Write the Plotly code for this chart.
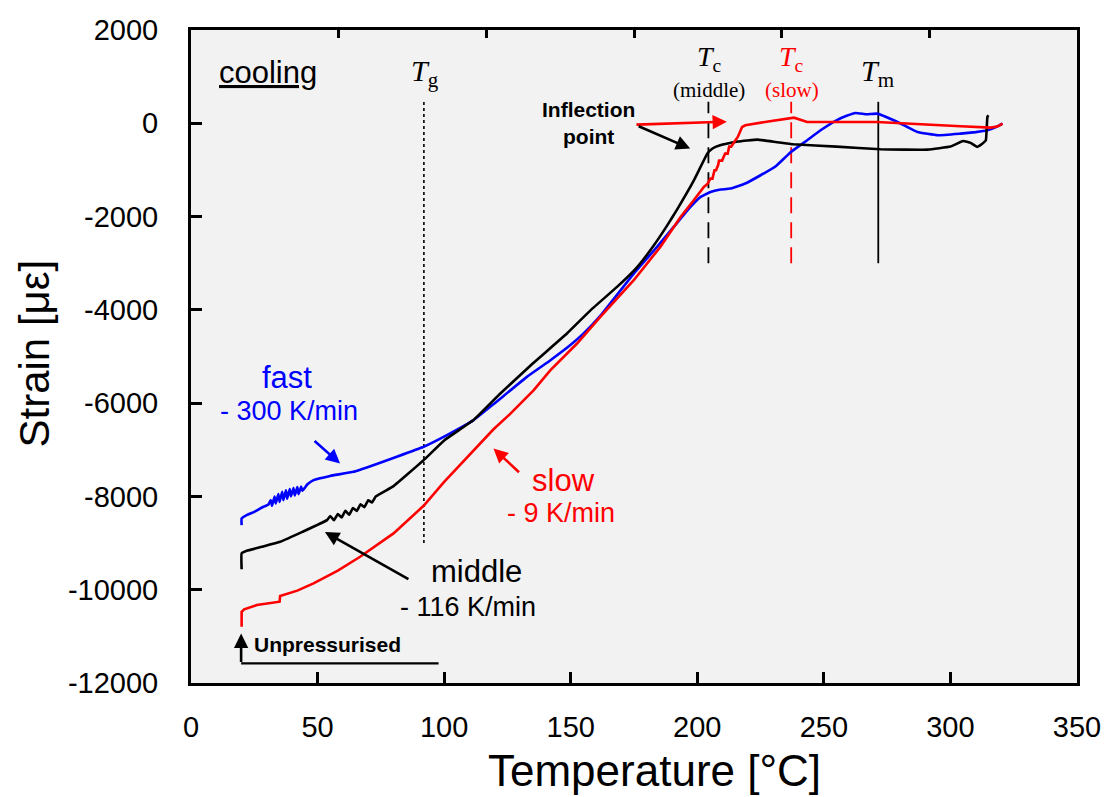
import plotly.graph_objects as go

# ---- measured strain during cooling (temperature in °C, strain in µε) ----
fast_T = [20, 20, 22, 25, 28.6, 30.5, 31.5, 32, 33, 33.5, 34.5, 35, 36, 36.5, 37.5, 38, 39, 39.5,
          40.5, 41, 42, 42.5, 43.5, 44, 46, 48.4, 55, 64.2, 72, 81.3, 91.9, 101.1, 111.6, 120,
          132.7, 142, 150, 155.2, 161.7, 174.9, 184.1, 190.7, 197.3, 201.3, 205.2, 209.2, 213, 219,
          225, 231, 237, 243, 248.7, 255, 259, 262.5, 267, 271, 277.6, 283, 287, 295, 304,
          310, 314.6, 318, 320.6]
fast_y = [-8615, -8472, -8400, -8330, -8222, -8180, -8080, -8200, -8000, -8150, -7950, -8120, -7900,
          -8080, -7870, -8050, -7840, -8000, -7820, -7980, -7800, -7950, -7790, -7880, -7740, -7650,
          -7560, -7472, -7330, -7150, -6936, -6686, -6364, -6000, -5436, -5080, -4750, -4500, -4130,
          -3222, -2650, -2222, -1793, -1579, -1472, -1421, -1400, -1290, -1114, -920, -614, -380,
          -150, 64, 160, 221, 193, 207, 64, -80, -186, -257, -221, -190, -150, -80, -7]

middle_T = [20, 20, 22, 28, 35.2, 44, 53.7, 55, 56.5, 58, 59.5, 61, 62.5, 64, 65.5, 67, 68.5, 70,
            71.5, 73, 80, 91.9, 100, 111.6, 122.2, 135, 148.5, 158, 168.3, 176, 182.8, 188, 192,
            198.6, 204, 206, 209, 216, 223.7, 231, 238, 255, 272.4, 291, 300, 305, 308, 310.6,
            313, 314, 314.6, 315]
middle_y = [-9560, -9222, -9165, -9080, -8972, -8760, -8508, -8420, -8510, -8380, -8450, -8310,
            -8390, -8250, -8310, -8170, -8230, -8080, -8130, -8000, -7780, -7222, -6800, -6364,
            -5793, -5150, -4507, -4000, -3508, -3100, -2620, -2200, -1850, -1230, -650, -540, -471,
            -390, -350, -400, -450, -500, -557, -565, -500, -379, -420, -507, -420, -364, 135, 171]

slow_T = [20, 20, 21, 26, 35, 35.2, 42, 48.4, 58, 66.8, 80, 91.9, 100, 110, 119.5, 126.1, 135.4,
          142, 152.5, 161.7, 174.9, 185.4, 193.4, 198.6, 202.6, 204, 205.2, 206, 206.8, 207.4, 208.2,
          208.6, 209.8, 211, 212, 212.6, 213.4, 214.6, 216, 217.7, 219, 228, 238.2, 243.4, 271, 304,
          316, 318.5, 320.6]
slow_y = [-10793, -10472, -10420, -10329, -10257, -10136, -10020, -9864, -9590, -9293, -8793, -8200,
          -7690, -7110, -6560, -6230, -5722, -5293, -4722, -4151, -3365, -2650, -2008, -1650, -1365,
          -1300, -1186, -1186, -1007, -1007, -900, -800, -800, -650, -650, -500, -500, -400, -293,
          -79, -43, 40, 121, 29, 29, -64, -93, -70, -7]

# characteristic temperatures (°C) and extent of their marker lines (µε)
T_G = 92.0
T_C_MIDDLE = 204.4
T_C_SLOW = 237.1
T_M = 271.5
TG_SPAN = [-9000, 500]
TRANSITION_SPAN = [-3000, 460]

# bracket marking the unpressurised start
unpress_T = [19.8, 97.8]
unpress_y = [-11580, -11580]

# axis ticks
x_ticks = [0, 50, 100, 150, 200, 250, 300, 350]
y_ticks = [2000, 0, -2000, -4000, -6000, -8000, -10000, -12000]
y_tick_text = ["2000", "0", "-2000", "-4000", "-6000", "-8000", "-10000", "-12000"]
top_ticks = [1, 2, 3, 4, 5]

SANS = "Liberation Sans, Arial, Helvetica, sans-serif"
SERIF = "Liberation Serif, Times New Roman, serif"
BLUE, RED, BLACK = "#0000ff", "#ff0000", "#000000"

fig = go.Figure()

# reference temperature lines
fig.add_trace(go.Scatter(x=[T_G, T_G], y=TG_SPAN, mode="lines",
                         line=dict(color=BLACK, width=1.6, dash="3px,3px"), hoverinfo="skip"))
fig.add_trace(go.Scatter(x=[T_C_MIDDLE, T_C_MIDDLE], y=TRANSITION_SPAN, mode="lines",
                         line=dict(color=BLACK, width=1.8, dash="16px,9px"), hoverinfo="skip"))
fig.add_trace(go.Scatter(x=[T_C_SLOW, T_C_SLOW], y=TRANSITION_SPAN, mode="lines",
                         line=dict(color=RED, width=1.8, dash="16px,9px"), hoverinfo="skip"))
fig.add_trace(go.Scatter(x=[T_M, T_M], y=TRANSITION_SPAN, mode="lines",
                         line=dict(color=BLACK, width=1.8), hoverinfo="skip"))

# strain curves
fig.add_trace(go.Scatter(x=fast_T, y=fast_y, mode="lines", name="fast",
                         line=dict(color=BLUE, width=2.6, shape="spline", smoothing=0.3)))
fig.add_trace(go.Scatter(x=middle_T, y=middle_y, mode="lines", name="middle",
                         line=dict(color=BLACK, width=2.6, shape="spline", smoothing=0.3)))
fig.add_trace(go.Scatter(x=slow_T, y=slow_y, mode="lines", name="slow",
                         line=dict(color=RED, width=2.6)))

fig.add_trace(go.Scatter(x=unpress_T, y=unpress_y, mode="lines",
                         line=dict(color=BLACK, width=2.4), hoverinfo="skip"))

# transparent markers that give the top tick axis something to carry
fig.add_trace(go.Scatter(x=top_ticks, y=[0] * len(top_ticks), xaxis="x2", yaxis="y",
                         mode="markers", marker=dict(opacity=0, size=1),
                         hoverinfo="skip", showlegend=False))


def label(x, y, text, size, color=BLACK, family=SANS, **kw):
    fig.add_annotation(x=x, y=y, text=text, showarrow=False, xanchor="center", yanchor="middle",
                       font=dict(family=family, size=size, color=color), **kw)


def arrow(x, y, ax, ay, color):
    fig.add_annotation(x=x, y=y, ax=ax, ay=ay, axref="pixel", ayref="pixel", text="",
                       showarrow=True, arrowhead=2, arrowsize=1.1, arrowwidth=2.6,
                       arrowcolor=color, standoff=0)


label(30.4, 1080, "<u>cooling</u>", 31)
label(92.5, 1080, "<i>T</i><sub>g</sub>", 30, family=SERIF)
label(205.0, 1380, "<i>T</i><sub>c</sub>", 28, family=SERIF)
label(204.7, 713, "(middle)", 21, family=SERIF)
label(237.1, 1380, "<i>T</i><sub>c</sub>", 28, color=RED, family=SERIF)
label(237.3, 713, "(slow)", 21, color=RED, family=SERIF)
label(271.1, 1080, "<i>T</i><sub>m</sub>", 30, family=SERIF)
label(156.9, 15, "<b>Inflection<br>point</b>", 21)

label(38.1, -5440, "fast", 31, color=BLUE)
label(38.7, -6174, "- 300 K/min", 27, color=BLUE)
label(147.0, -7650, "slow", 31, color=RED)
label(146.2, -8362, "- 9 K/min", 27, color=RED)
label(112.6, -9620, "middle", 31)
label(109.3, -10377, "- 116 K/min", 27)
label(54.1, -11170, "<b>Unpressurised</b>", 21)

arrow(211.7, 34, -92, 3, RED)
arrow(197.2, -542, -53, -23, BLACK)
arrow(58.9, -7296, -27, -24, BLUE)
arrow(119.5, -6974, 27, 25, RED)
arrow(52.9, -8762, 85, 48, BLACK)
arrow(19.8, -10941, 0, 30, BLACK)

# axis titles
fig.add_annotation(text="Temperature [°C]", xref="paper", yref="paper", x=0.5237, y=0,
                   yshift=-87, showarrow=False, xanchor="center", yanchor="middle",
                   font=dict(family=SANS, size=44, color=BLACK))
fig.add_annotation(text="Strain [με]", xref="paper", yref="paper", x=0, y=0.5, xshift=-157,
                   yshift=3, textangle=-90, showarrow=False, xanchor="center", yanchor="middle",
                   font=dict(family=SANS, size=42, color=BLACK))

fig.update_layout(
    width=1107, height=797,
    margin=dict(l=191, r=30, t=30, b=114, autoexpand=False),
    paper_bgcolor="white", plot_bgcolor="#f2f2f2",
    showlegend=False,
    font=dict(family=SANS, color=BLACK),
    xaxis=dict(range=[0, 350], tickvals=x_ticks, ticks="inside", ticklen=11, tickwidth=3,
               tickcolor=BLACK, showline=True, linecolor=BLACK, linewidth=3, mirror=True,
               showgrid=False, zeroline=False, tickfont=dict(size=29, family=SANS),
               ticklabelstandoff=16),
    xaxis2=dict(range=[0, 6], overlaying="x", side="top", anchor="y", visible=True,
                tickvals=top_ticks, ticks="inside", ticklen=8, tickwidth=3, tickcolor=BLACK,
                showticklabels=False, showgrid=False, zeroline=False, showline=False),
    yaxis=dict(range=[-12000, 2000], tickvals=y_ticks, ticktext=y_tick_text, ticks="inside",
               ticklen=11, tickwidth=3, tickcolor=BLACK, showline=True, linecolor=BLACK,
               linewidth=3, mirror=True, showgrid=False, zeroline=False,
               tickfont=dict(size=29, family=SANS), ticklabelstandoff=24),
)

fig.write_html("out.html")
